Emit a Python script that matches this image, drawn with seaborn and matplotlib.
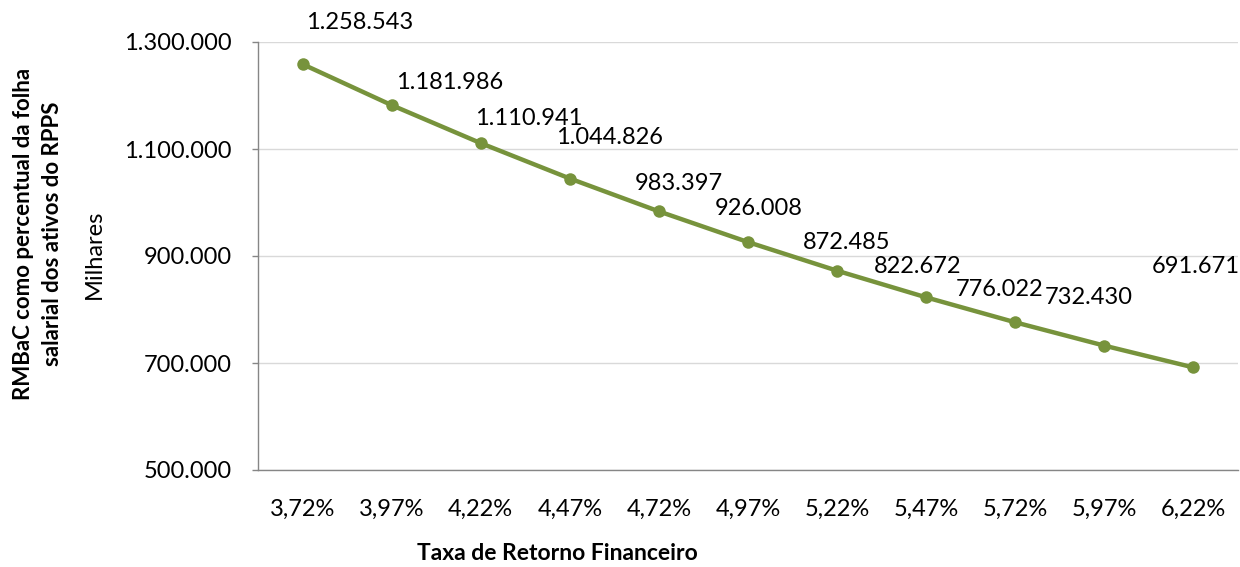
import matplotlib
matplotlib.use('Agg')
import matplotlib.pyplot as plt
import matplotlib.ticker as mticker
import seaborn as sns
import pandas as pd

# Dados (valores em milhares)
taxas = ['3,72%', '3,97%', '4,22%', '4,47%', '4,72%', '4,97%', '5,22%', '5,47%', '5,72%', '5,97%', '6,22%']
rmbac = [1258543, 1181986, 1110941, 1044826, 983397, 926008, 872485, 822672, 776022, 732430, 691671]
y_ticks = [500000, 700000, 900000, 1100000, 1300000]

# deslocamento dos rótulos (em pixels) em relação aos pontos
offsets = [(57, 42), (58, 23), (48, 25), (40, 41), (20, 28), (11, 34), (10, 28), (-9, 31), (-16, 33), (-16, 48), (2, 101)]

data = pd.DataFrame({'taxa': taxas, 'valor': rmbac, 'pos': range(len(taxas))})

sns.set_style('white')
plt.rcParams['font.family'] = ['Lato', 'DejaVu Sans']
plt.rcParams['text.color'] = 'black'
plt.rcParams['xtick.color'] = 'black'
plt.rcParams['ytick.color'] = 'black'

fs = 17

fig = plt.figure(figsize=(12.4, 5.67), dpi=100)
ax = fig.add_axes([258 / 1240, 1 - 470 / 567, (1238 - 258) / 1240, (470 - 42) / 567])

cor = '#77933C'
sns.lineplot(data=data, x='pos', y='valor', ax=ax, color=cor, linewidth=3.2,
             marker='o', markersize=9, markeredgewidth=0, markerfacecolor=cor)

ax.set_xlim(-0.5, len(taxas) - 0.5)
ax.set_ylim(500000, 1300000)

ax.set_yticks(y_ticks)
ax.yaxis.set_major_formatter(mticker.FuncFormatter(lambda v, p: f'{int(v):,}'.replace(',', '.')))
ax.grid(axis='y', color='#D9D9D9', linewidth=1)
ax.set_axisbelow(True)

ax.set_xticks(range(len(taxas)))
ax.set_xticklabels(taxas)
ax.set_xticks([i - 0.5 for i in range(len(taxas) + 1)], minor=True)
ax.tick_params(axis='x', which='major', length=0, pad=21, labelsize=fs, labelcolor='black')
ax.tick_params(axis='x', which='minor', length=6, color='#868686', width=1, direction='out')
ax.tick_params(axis='y', which='major', length=4, color='#868686', width=1, labelsize=fs, pad=15,
               left=True, labelcolor='black')

for s in ['top', 'right']:
    ax.spines[s].set_visible(False)
for s in ['left', 'bottom']:
    ax.spines[s].set_color('#868686')
    ax.spines[s].set_linewidth(1)

for i, v in enumerate(rmbac):
    dx, dy = offsets[i]
    ax.annotate(f'{v:,}'.replace(',', '.'), (i, v), xytext=(dx * 0.72, dy * 0.72),
                textcoords='offset points', ha='center', va='center', fontsize=fs, color='black')

ax.set_xlabel('')
ax.set_ylabel('')
fig.text(38 / 1240, 1 - 234 / 567, 'RMBaC como percentual da folha\nsalarial dos ativos do RPPS',
         rotation=90, ha='center', va='center', fontsize=16, fontweight='bold', linespacing=1.45)
fig.text(94 / 1240, 1 - 254 / 567, 'Milhares', rotation=90, ha='center', va='center', fontsize=fs)
fig.text(557 / 1240, 1 - 553 / 567, 'Taxa de Retorno Financeiro', ha='center', va='center',
         fontsize=16.5, fontweight='bold')

fig.savefig('out.png', dpi=100)
